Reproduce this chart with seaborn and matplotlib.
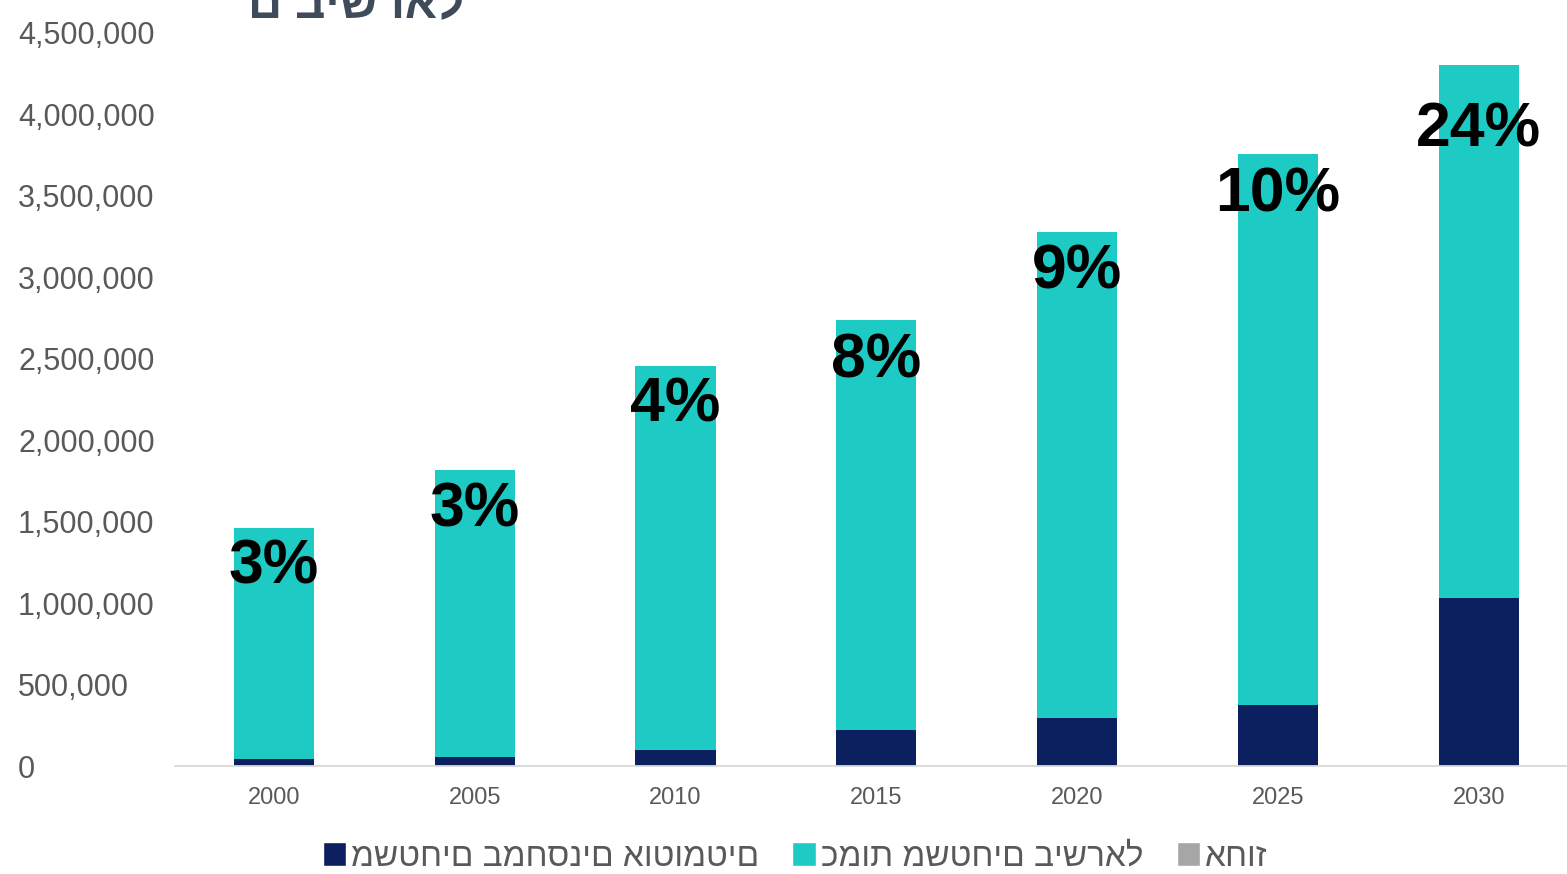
import matplotlib
matplotlib.use("Agg")
import matplotlib.pyplot as plt
import seaborn as sns
import pandas as pd
import numpy as np
from matplotlib.patches import Patch
from matplotlib.ticker import FuncFormatter

# ---- data ----
years = ["2000", "2005", "2010", "2015", "2020", "2025", "2030"]
total_pallets = [1460000, 1820000, 2455000, 2735000, 3280000, 3760000, 4305000]
automated_pallets = [44000, 55000, 98000, 219000, 295000, 376000, 1033000]
automated_share = [3, 3, 4, 8, 9, 10, 24]
legend_labels = ["משטחים במחסנים אוטומטים", "כמות משטחים בישראל", "אחוז"]
title_fragment = "ם בישראל"

# ---- layout / style ----
label_drop_px = [39, 40, 39, 41, 40, 41, 65]
TEAL = "#1ecbc4"
NAVY = "#0c1f5e"
GRAY = "#a6a6a6"
TEXT_GRAY = "#595959"

sns.set_theme(style="white")
plt.rcParams["font.family"] = ["Liberation Sans", "DejaVu Sans"]

W, H = 1567, 874
fig = plt.figure(figsize=(W / 100, H / 100), dpi=100)
ax = fig.add_axes([175 / W, (H - 766) / H, 1 - 175 / W, (766 - 33) / H])

df = pd.DataFrame({
    "year": years,
    "total": total_pallets,
    "auto": automated_pallets,
    "share": automated_share,
})

sns.barplot(data=df, x="year", y="total", color=TEAL, width=0.4,
            saturation=1, errorbar=None, linewidth=0, ax=ax)
sns.barplot(data=df, x="year", y="auto", color=NAVY, width=0.4,
            saturation=1, errorbar=None, linewidth=0, ax=ax)

for i, (tot, pct, drop) in enumerate(zip(df["total"], df["share"], label_drop_px)):
    ax.annotate(f"{pct}%", xy=(i, tot), xytext=(0, -drop * 0.72),
                textcoords="offset points", ha="center", va="center",
                fontsize=45, fontweight="bold", color="black")

ax.set_ylim(0, 4500000)
ax.set_xlim(-0.493, 6.44)
ax.set_yticks(np.arange(0, 4500001, 500000))
ax.yaxis.set_major_formatter(FuncFormatter(lambda v, _: f"{v:,.0f}"))
ax.set_xlabel("")
ax.set_ylabel("")

for s in ["top", "right", "left"]:
    ax.spines[s].set_visible(False)
ax.spines["bottom"].set_color("#d9d9d9")
ax.spines["bottom"].set_linewidth(1.3)

ax.tick_params(axis="y", length=0, pad=113, labelsize=22, labelcolor=TEXT_GRAY)
ax.tick_params(axis="x", length=0, pad=15, labelsize=17, labelcolor=TEXT_GRAY)
for lbl in ax.get_yticklabels():
    lbl.set_horizontalalignment("left")

handles = [Patch(facecolor=NAVY), Patch(facecolor=TEAL), Patch(facecolor=GRAY)]
fig.legend(handles, legend_labels, loc="center",
           bbox_to_anchor=(795 / W, 1 - 857 / H), ncol=3, frameon=False,
           fontsize=24, labelcolor=TEXT_GRAY, handlelength=0.7,
           handleheight=0.7, handletextpad=0.15, columnspacing=1.0)

fig.text(248 / W, 1 - 18 / H, title_fragment, ha="left", va="baseline",
         fontsize=34, fontweight="bold", color="#3f4a5a")

fig.savefig("out.png", dpi=100)
